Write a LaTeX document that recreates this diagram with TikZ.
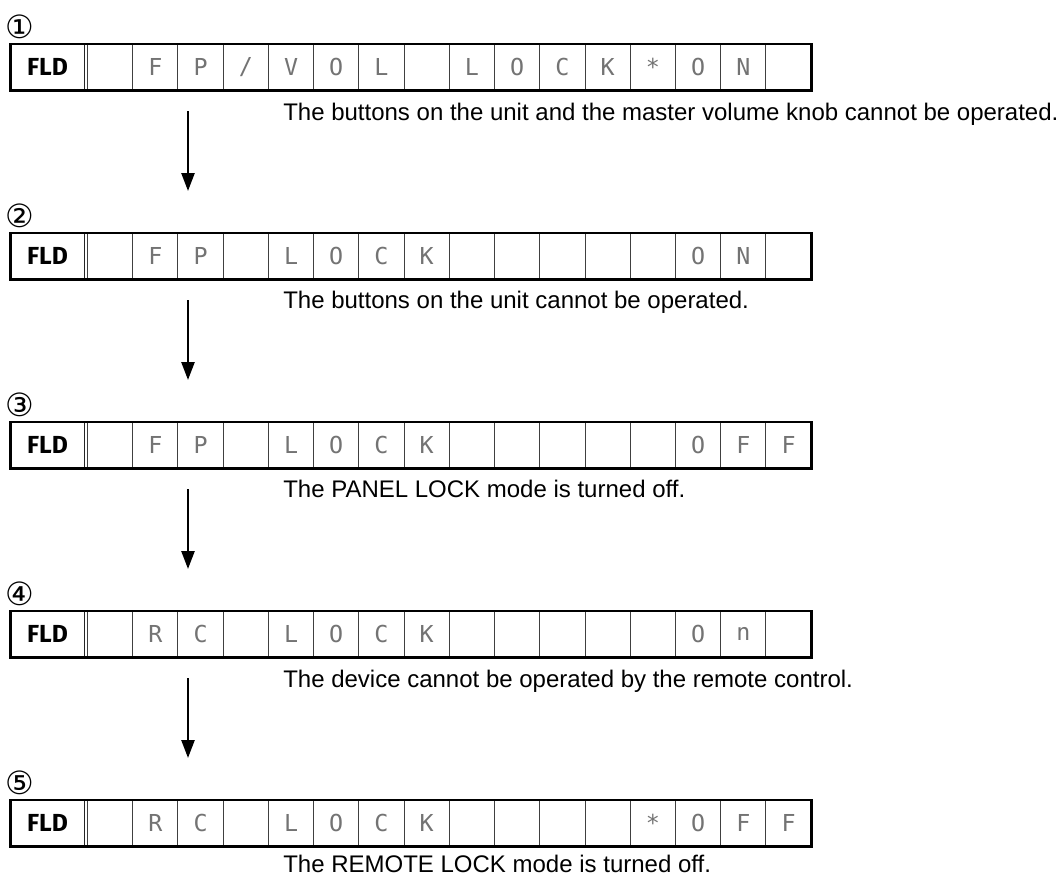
\documentclass[tikz,border=0pt]{standalone}
\usepackage{fontspec}
\setmainfont{Liberation Sans}
\newfontfamily\circfont{DejaVu Sans}
\newfontfamily\dmfont{DejaVu Sans Mono}
\newfontfamily\fldfont{Fira Sans}
\usetikzlibrary{arrows.meta}
\newcommand\dmast{\lower0.2em\hbox{*}}
\newcommand\fprow[4]{%
  \pgfmathsetmacro\ytop{44.5+189*(#1-1)}%
  \pgfmathsetmacro\yc{\ytop+22.75}%
  \node[fldcell] (r#1f) at (47.5,\yc) {FLD};
  \foreach \ch [count=\k] in {#2} {%
    \node[cell] (r#1c\k) at ({87.5+45.23*(\k-0.5)},\yc) {\ch};
  }
  \draw[frame] (r#1f.north west) rectangle (r#1c16.south east);
  \node[num] (n#1) at (20,{\ytop-17.5}) {#4};
}
\begin{document}
\begin{tikzpicture}[x=0.75pt,y=-0.75pt,
  frame/.style={draw=black,line width=2pt},
  cell/.style={draw=black!75,line width=0.8pt,minimum width=33.92pt,minimum height=34.125pt,inner sep=0pt,
    font=\dmfont\fontsize{17.5}{17.5}\selectfont,text=black!55},
  fldcell/.style={draw=black!85,line width=0.8pt,minimum width=54.8pt,minimum height=34.125pt,inner sep=0pt,
    font=\fldfont\bfseries\fontsize{18.5}{18.5}\selectfont},
  desc/.style={anchor=base west,inner sep=0pt,font=\fontsize{18}{20}\selectfont},
  num/.style={inner sep=0pt,font=\circfont\fontsize{24}{24}\selectfont},
  arr/.style={line width=1.9pt,-{Triangle[length=13.5pt,width=9.75pt]}}]
\useasboundingbox (0,0) rectangle (1059,878);

\fprow{1}{{},F,P,/,V,O,L,{},L,O,C,K,\dmast,O,N,{}}{}{①}
\fprow{2}{{},F,P,{},L,O,C,K,{},{},{},{},{},O,N,{}}{}{②}
\fprow{3}{{},F,P,{},L,O,C,K,{},{},{},{},{},O,F,F}{}{③}
\fprow{4}{{},R,C,{},L,O,C,K,{},{},{},{},{},O,n,{}}{}{④}
\fprow{5}{{},R,C,{},L,O,C,K,{},{},{},{},\dmast,O,F,F}{}{⑤}

\node[desc] (d1) at (283,120) {The buttons on the unit and the master volume knob cannot be operated.};
\node[desc] (d2) at (283,308) {The buttons on the unit cannot be operated.};
\node[desc] (d3) at (283,497) {The PANEL LOCK mode is turned off.};
\node[desc] (d4) at (283,687) {The device cannot be operated by the remote control.};
\node[desc] (d5) at (283,872) {The REMOTE LOCK mode is turned off.};

\foreach \i in {1,2,3,4} {
  \coordinate (a\i s) at (188,{111+189*(\i-1)});
  \coordinate (a\i e) at (188,{191+189*(\i-1)});
  \draw[arr] (a\i s) -- (a\i e);
}
\end{tikzpicture}
\end{document}
